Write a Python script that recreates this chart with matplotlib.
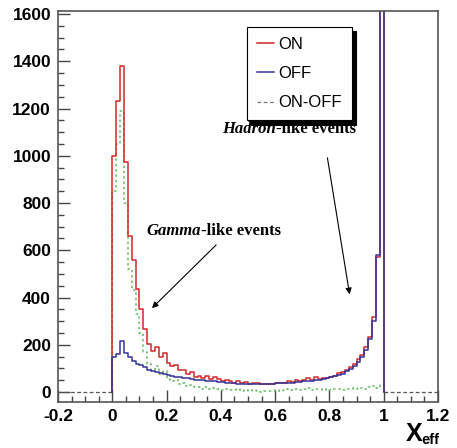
import numpy as np
import matplotlib.pyplot as plt
from matplotlib.ticker import MultipleLocator

# 70 bins on [0, 1]
edges = np.linspace(0, 1, 71)

on_counts = [1000, 1230, 1380, 975, 660, 560, 435, 350, 265, 205,
             175, 190, 150, 165, 125, 110, 115, 95, 95, 75,
             85, 65, 70, 60, 70, 55, 65, 55, 45, 50,
             45, 40, 45, 38, 42, 35, 40, 38, 33, 35,
             35, 35, 38, 38, 40, 45, 42, 52, 45, 50,
             60, 50, 62, 55, 60, 60, 65, 70, 80, 85,
             95, 105, 120, 142, 157, 192, 234, 319, 570, 5000]
off_counts = [150, 160, 215, 165, 150, 130, 120, 115, 105, 95,
              90, 85, 80, 75, 72, 70, 65, 62, 60, 58,
              55, 52, 50, 50, 48, 46, 45, 44, 42, 40,
              40, 38, 36, 35, 35, 34, 33, 33, 33, 34,
              35, 36, 37, 38, 38, 40, 40, 42, 42, 45,
              48, 48, 52, 52, 55, 58, 62, 66, 72, 78,
              88, 98, 110, 128, 148, 180, 225, 300, 580, 5000]
diff_counts = [850, 1050, 1190, 800, 520, 430, 330, 250, 170, 120,
               95, 110, 75, 90, 55, 45, 50, 35, 40, 25,
               30, 20, 22, 15, 22, 12, 18, 14, 8, 12,
               10, 8, 12, 6, 10, 4, 8, 6, 2, 4,
               5, 6, 8, 5, 10, 12, 8, 15, 10, 12,
               18, 10, 15, 12, 10, 14, 8, 12, 15, 10,
               12, 14, 16, 12, 18, 15, 20, 25, 18, 30]

x_ticks = [-0.2, 0, 0.2, 0.4, 0.6, 0.8, 1, 1.2]
x_ticklabels = ['-0.2', '0', '0.2', '0.4', '0.6', '0.8', '1', '1.2']
y_ticks = [0, 200, 400, 600, 800, 1000, 1200, 1400, 1600]

plt.rcParams['font.family'] = ['Liberation Sans', 'DejaVu Sans']

fig = plt.figure(figsize=(4.57, 4.48), dpi=100)
ax = fig.add_axes([0.1269, 0.1027, 0.8315, 0.8728])

c_on = '#d02828'
c_off = '#33339a'
c_diff = '#5cb85c'

def step_hist(vals, **kw):
    xs = np.repeat(edges, 2)
    ys = np.concatenate([[0], np.repeat(vals, 2), [0]])
    return ax.plot(xs, ys, **kw)

# ON-OFF outside [0, 1]
ax.plot([-0.2, 0], [0, 0], color='#555555', ls=(0, (3, 2)), lw=0.9)
ax.plot([1, 1.2], [0, 0], color='#555555', ls=(0, (3, 2)), lw=0.9)
ax.plot([0, 0], [0, diff_counts[0]], color='#d8a050', ls=(0, (3, 2)), lw=0.9)

step_hist(diff_counts, color=c_diff, ls=(0, (1.5, 2)), lw=1.1)
step_hist(on_counts, color=c_on, lw=1.1, label='ON')
step_hist(off_counts, color=c_off, lw=1.1, label='OFF')
ax.plot([], [], color='#777777', ls=(0, (3, 2)), lw=0.9, label='ON-OFF')

ax.set_xlim(-0.2, 1.2)
ax.set_ylim(-42, 1613)
ax.set_xticks(x_ticks)
ax.set_xticklabels(x_ticklabels)
ax.set_yticks(y_ticks)
ax.xaxis.set_minor_locator(MultipleLocator(0.05))
ax.yaxis.set_minor_locator(MultipleLocator(50))
ax.tick_params(which='both', direction='in', top=False, right=False,
               color='#444444', width=1.0)
ax.tick_params(which='major', length=8.5, labelsize=12.5, pad=5)
ax.tick_params(which='minor', length=4.3)
for lab in ax.get_xticklabels() + ax.get_yticklabels():
    lab.set_fontweight('bold')
for sp in ax.spines.values():
    sp.set_color('#555555')
    sp.set_linewidth(1.2)

leg = ax.legend(loc='upper left', bbox_to_anchor=(0.497, 0.959), fontsize=12,
                frameon=True, fancybox=False, edgecolor='black',
                shadow={'color': 'black', 'alpha': 1, 'ox': 3, 'oy': -3},
                handlelength=1.0, handletextpad=0.3, labelspacing=0.85,
                borderpad=0.6, borderaxespad=0)
leg.get_frame().set_linewidth(0.8)

serif = ['Liberation Serif', 'DejaVu Serif']
t_had = ax.text(0.404, 1096, 'Hadron', family=serif, fontsize=12,
                fontweight='bold', style='italic')
ax.annotate('', xy=(0.876, 402), xytext=(0.791, 1003),
            arrowprops=dict(arrowstyle='-|>', color='black', lw=0.8,
                            mutation_scale=9))
t_gam = ax.text(0.125, 665, 'Gamma', family=serif, fontsize=12,
                fontweight='bold', style='italic')
ax.annotate('', xy=(0.139, 347), xytext=(0.39, 631),
            arrowprops=dict(arrowstyle='-|>', color='black', lw=0.8,
                            mutation_scale=9))

# attach "-like events" after the italic words
fig.canvas.draw()
r = fig.canvas.get_renderer()
for t in [t_had, t_gam]:
    bb = t.get_window_extent(r)
    x0 = ax.transData.inverted().transform((bb.x1, bb.y0))[0]
    ax.text(x0, t.get_position()[1], '-like events', family=serif,
            fontsize=12, fontweight='bold')

fig.text(0.889, 0.016, 'X', fontsize=18, fontweight='bold')
fig.text(0.922, 0.008, 'eff', fontsize=10.5, fontweight='bold')

fig.savefig('out.png', dpi=100)
